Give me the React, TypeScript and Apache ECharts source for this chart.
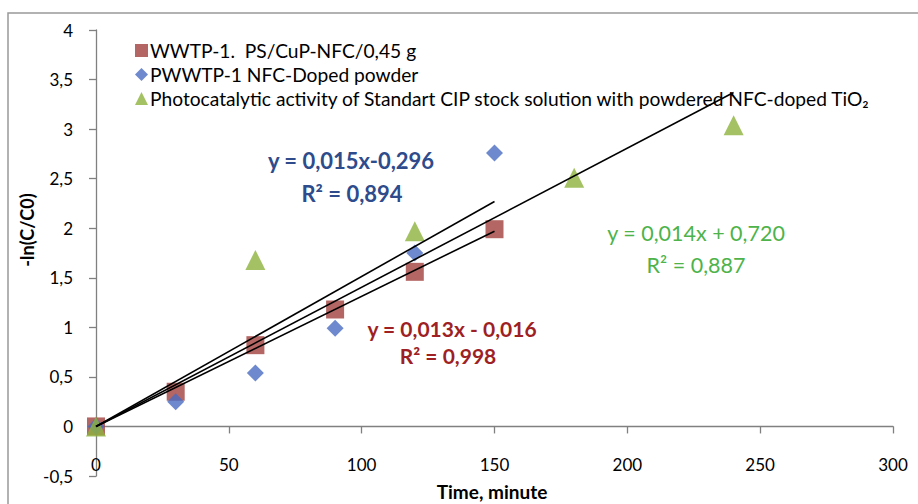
import React, { useEffect, useRef } from "react";
import * as echarts from "echarts";

const seriesNames = [
  "WWTP-1.  PS/CuP-NFC/0,45 g",
  "PWWTP-1 NFC-Doped powder",
  "Photocatalytic activity of Standart CIP stock solution with powdered NFC-doped TiO₂",
];
const redPoints: number[][] = [[0, 0], [30, 0.35], [60, 0.82], [90, 1.18], [120, 1.56], [150, 1.99]];
const bluePoints: number[][] = [[0, 0], [30, 0.25], [60, 0.54], [90, 0.99], [120, 1.75], [150, 2.76]];
const greenPoints: number[][] = [[0, 0], [60, 1.68], [120, 1.97], [180, 2.51], [240, 3.04]];
const trendBlue: number[][] = [[0, 0], [150, 2.27]];
const trendRed: number[][] = [[0, 0], [150, 1.97]];
const trendGreen: number[][] = [[0, 0], [240, 3.37]];
const xTicks = { min: 0, max: 300, interval: 50 };
const yTicks = { min: -0.5, max: 4, interval: 0.5 };
const eqBlue = ["y = 0,015x-0,296", "R² = 0,894"];
const eqRed = ["y = 0,013x - 0,016", "R² = 0,998"];
const eqGreen = ["y = 0,014x + 0,720", "R² = 0,887"];

const FONT = "Lato, 'Open Sans', sans-serif";
const RED = "#A0403C";
const BLUE = "#4A6CC0";
const GREEN = "#8DB33C";

export default function App() {
  const ref = useRef<HTMLDivElement>(null);
  useEffect(() => {
    if (!ref.current) return;
    const chart = echarts.init(ref.current, undefined, { renderer: "svg" });
    const fmt = (v: number) => String(v).replace(".", ",");
    const trend = (data: number[][]) => ({
      type: "line",
      data,
      symbol: "none",
      silent: true,
      z: 5,
      lineStyle: { color: "#000", width: 1.6 },
    });
    const txt = (x: number, y: number, text: string, weight: string, size: number, color: string) => ({
      type: "text",
      x,
      y,
      style: { text, font: `${weight} ${size}px ${FONT}`, fill: color, align: "center", verticalAlign: "middle", lineHeight: size },
    });
    const axisCommon = { color: "#808080", width: 1.3 };
    chart.setOption({
      animation: false,
      backgroundColor: "#fff",
      textStyle: { fontFamily: FONT },
      grid: { left: 96, right: 25, top: 30, bottom: 28, containLabel: false, outerBoundsMode: "none" },
      xAxis: [
        {
          type: "value",
          ...xTicks,
          axisLine: { show: true, onZero: true, lineStyle: axisCommon },
          axisTick: { show: true, inside: false, length: 7, lineStyle: axisCommon },
          axisLabel: { show: false },
          splitLine: { show: false },
        },
        {
          type: "value",
          position: "bottom",
          ...xTicks,
          axisLine: { show: false, onZero: false },
          axisTick: { show: false },
          axisLabel: { color: "#000", fontSize: 17, fontFamily: FONT, margin: -20, formatter: fmt },
          splitLine: { show: false },
        },
      ],
      yAxis: {
        type: "value",
        ...yTicks,
        axisLine: { show: true, onZero: false, lineStyle: axisCommon },
        axisTick: { show: true, inside: false, length: 7, lineStyle: axisCommon },
        axisLabel: { color: "#000", fontSize: 17, fontFamily: FONT, margin: 23, formatter: fmt },
        splitLine: { show: false },
      },
      legend: {
        orient: "vertical",
        left: 130,
        top: 36,
        itemGap: 5,
        itemWidth: 13,
        itemHeight: 13,
        data: [
          { name: seriesNames[0], icon: "rect" },
          { name: seriesNames[1], icon: "diamond" },
          { name: seriesNames[2], icon: "triangle" },
        ],
        textStyle: { fontSize: 19.2, color: "#000", fontFamily: FONT, padding: [0, 0, 0, -3] },
      },
      series: [
        { name: seriesNames[0], type: "scatter", data: redPoints, symbol: "rect", symbolSize: 18, itemStyle: { color: RED }, z: 3 },
        { name: seriesNames[1], type: "scatter", data: bluePoints, symbol: "diamond", symbolSize: 17, itemStyle: { color: BLUE }, z: 3 },
        { name: seriesNames[2], type: "scatter", data: greenPoints, symbol: "triangle", symbolSize: 20, itemStyle: { color: GREEN }, z: 3 },
        trend(trendBlue),
        trend(trendRed),
        trend(trendGreen),
      ],
      graphic: [
        { type: "rect", shape: { x: 8, y: 13, width: 930, height: 520 }, style: { fill: "none", stroke: "#999", lineWidth: 1.5 }, silent: true },
        { type: "text", x: 27, y: 230, rotation: Math.PI / 2, style: { text: "-ln(C/C0)", font: `bold 18px ${FONT}`, fill: "#000", align: "center", verticalAlign: "middle" } },
        { type: "text", x: 492, y: 491, style: { text: "Time, minute", font: `bold 19px ${FONT}`, fill: "#000", align: "center", verticalAlign: "middle" } },
        txt(351, 160, eqBlue[0], "bold", 22, "#2E4B8C"),
        txt(352, 193, eqBlue[1], "bold", 22, "#2E4B8C"),
        txt(452, 328, eqRed[0], "bold", 21, "#9E1F24"),
        txt(448, 355, eqRed[1], "bold", 21, "#9E1F24"),
        txt(696, 233, eqGreen[0], "normal", 21.5, "#4DB34A"),
        txt(696, 265, eqGreen[1], "normal", 21.5, "#4DB34A"),
      ],
    });
    return () => chart.dispose();
  }, []);
  return <div ref={ref} style={{ position: "fixed", left: 0, top: 0, width: 918, height: 504 }} />;
}
